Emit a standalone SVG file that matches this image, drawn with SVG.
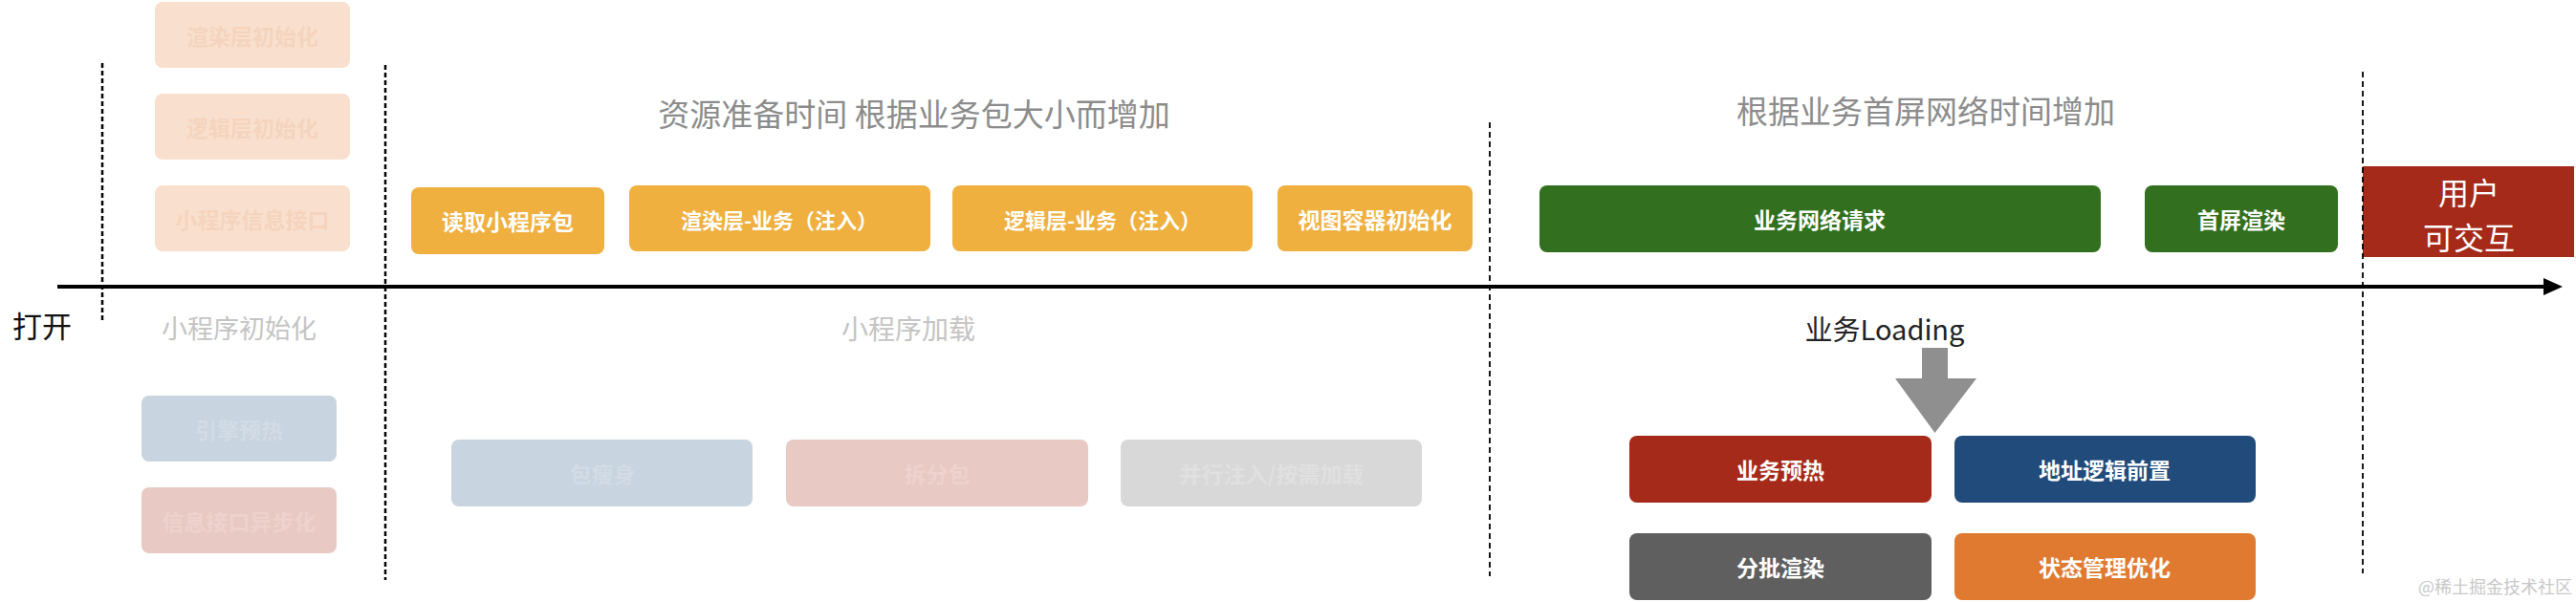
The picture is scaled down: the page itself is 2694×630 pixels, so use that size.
<svg xmlns="http://www.w3.org/2000/svg" width="2694" height="630" viewBox="0 0 2694 630">
<style>
text{font-family:"Noto Sans CJK SC","Liberation Sans",sans-serif;dominant-baseline:central;text-anchor:middle}
.lbl{font-size:23px;font-weight:bold;fill:#fff}
.fl{font-size:23px;font-weight:bold}
.title{font-size:33px;fill:#8c8c8c}
.sub{font-size:27px;fill:#c4c4c4}
.dash{stroke:#000;stroke-width:2.5;stroke-dasharray:5 3;fill:none}
.dash2{stroke:#000;stroke-width:1.8;stroke-dasharray:6 4;fill:none}
.peach{fill:#f9e0ce}.peacht{fill:#f5d4be}
.fblue{fill:#c8d4df}.fbluet{fill:#d2dce6}
.fpink{fill:#e8c9c4}.fpinkt{fill:#eed2cd}
.fgray{fill:#d8d8d8}.fgrayt{fill:#e0e0e0}
.orange{fill:#efb040}
.green{fill:#32701f}
.red{fill:#a52a1a}
.blue{fill:#204b7a}
.dgray{fill:#5f5f5f}
.orng2{fill:#e07a30}
</style>
<defs>
<marker id="ah" markerUnits="userSpaceOnUse" markerWidth="22" markerHeight="20" refX="2" refY="10" orient="auto">
<path d="M0,1 L20,10 L0,19 Z" fill="#000"/>
</marker>
</defs>
<rect width="2694" height="630" fill="#fff"/>

<g id="texts">
<text class="title" x="956" y="118">资源准备时间 根据业务包大小而增加</text>
<text class="title" x="2014" y="115">根据业务首屏网络时间增加</text>
<text x="44" y="339" style="font-size:31px;fill:#111">打开</text>
<text class="sub" x="250" y="342">小程序初始化</text>
<text class="sub" x="950" y="343" style="font-size:28px">小程序加载</text>
<text x="1971" y="343" style="font-size:29px;fill:#222">业务Loading</text>
<text x="2690" y="613" style="font-size:18px;fill:#c8c8c8;text-anchor:end">@稀土掘金技术社区</text>
</g>

<g id="n-render-init"><rect class="peach" x="162" y="2" width="204" height="69" rx="8"/><text class="fl peacht" x="264" y="37">渲染层初始化</text></g>
<g id="n-logic-init"><rect class="peach" x="162" y="98" width="204" height="69" rx="8"/><text class="fl peacht" x="264" y="133">逻辑层初始化</text></g>
<g id="n-info-api"><rect class="peach" x="162" y="194" width="204" height="69" rx="8"/><text class="fl peacht" x="264" y="229">小程序信息接口</text></g>
<g id="n-engine"><rect class="fblue" x="148" y="414" width="204" height="69" rx="8"/><text class="fl fbluet" x="250" y="449">引擎预热</text></g>
<g id="n-async"><rect class="fpink" x="148" y="510" width="204" height="69" rx="8"/><text class="fl fpinkt" x="250" y="545">信息接口异步化</text></g>
<g id="n-slim"><rect class="fblue" x="472" y="460" width="315" height="70" rx="8"/><text class="fl fbluet" x="630" y="495">包瘦身</text></g>
<g id="n-split"><rect class="fpink" x="822" y="460" width="316" height="70" rx="8"/><text class="fl fpinkt" x="980" y="495">拆分包</text></g>
<g id="n-parallel"><rect class="fgray" x="1172" y="460" width="315" height="70" rx="8"/><text class="fl fgrayt" x="1330" y="495">并行注入/按需加载</text></g>

<g id="n-read"><rect class="orange" x="430" y="196" width="202" height="70" rx="8"/><text class="lbl" x="531" y="231">读取小程序包</text></g>
<g id="n-render-biz"><rect class="orange" x="658" y="194" width="315" height="69" rx="8"/><text class="lbl" x="815" y="229" style="font-size:22px">渲染层-业务（注入）</text></g>
<g id="n-logic-biz"><rect class="orange" x="996" y="194" width="314" height="69" rx="8"/><text class="lbl" x="1153" y="229" style="font-size:22px">逻辑层-业务（注入）</text></g>
<g id="n-view"><rect class="orange" x="1336" y="194" width="204" height="69" rx="8"/><text class="lbl" x="1438" y="229">视图容器初始化</text></g>
<g id="n-net"><rect class="green" x="1610" y="194" width="587" height="70" rx="8"/><text class="lbl" x="1903" y="229">业务网络请求</text></g>
<g id="n-first"><rect class="green" x="2243" y="194" width="202" height="70" rx="8"/><text class="lbl" x="2344" y="229">首屏渲染</text></g>
<g id="n-user"><rect class="red" x="2471" y="174" width="221" height="95"/><text x="2582" y="200" style="font-size:32px;fill:#fff">用户</text><text x="2582" y="247" style="font-size:32px;fill:#fff">可交互</text></g>

<g id="n-prewarm"><rect class="red" x="1704" y="456" width="316" height="70" rx="8"/><text class="lbl" x="1862" y="491">业务预热</text></g>
<g id="n-addr"><rect class="blue" x="2044" y="456" width="315" height="70" rx="8"/><text class="lbl" x="2201" y="491">地址逻辑前置</text></g>
<g id="n-batch"><rect class="dgray" x="1704" y="558" width="316" height="70" rx="8"/><text class="lbl" x="1862" y="593">分批渲染</text></g>
<g id="n-state"><rect class="orng2" x="2044" y="558" width="315" height="70" rx="8"/><text class="lbl" x="2201" y="593">状态管理优化</text></g>

<g id="connectors">
<line x1="60" y1="300" x2="2662" y2="300" stroke="#000" stroke-width="4" marker-end="url(#ah)"/>
<line class="dash" x1="107" y1="66" x2="107" y2="338"/>
<line class="dash" x1="403" y1="68" x2="403" y2="607"/>
<line class="dash2" x1="1558" y1="128" x2="1558" y2="603"/>
<line class="dash2" x1="2471" y1="75" x2="2471" y2="600"/>
<polygon points="2010,364 2037,364 2037,396 2067,396 2023.5,453 1982,396 2010,396" fill="#8f8f8f"/>
</g>
</svg>
